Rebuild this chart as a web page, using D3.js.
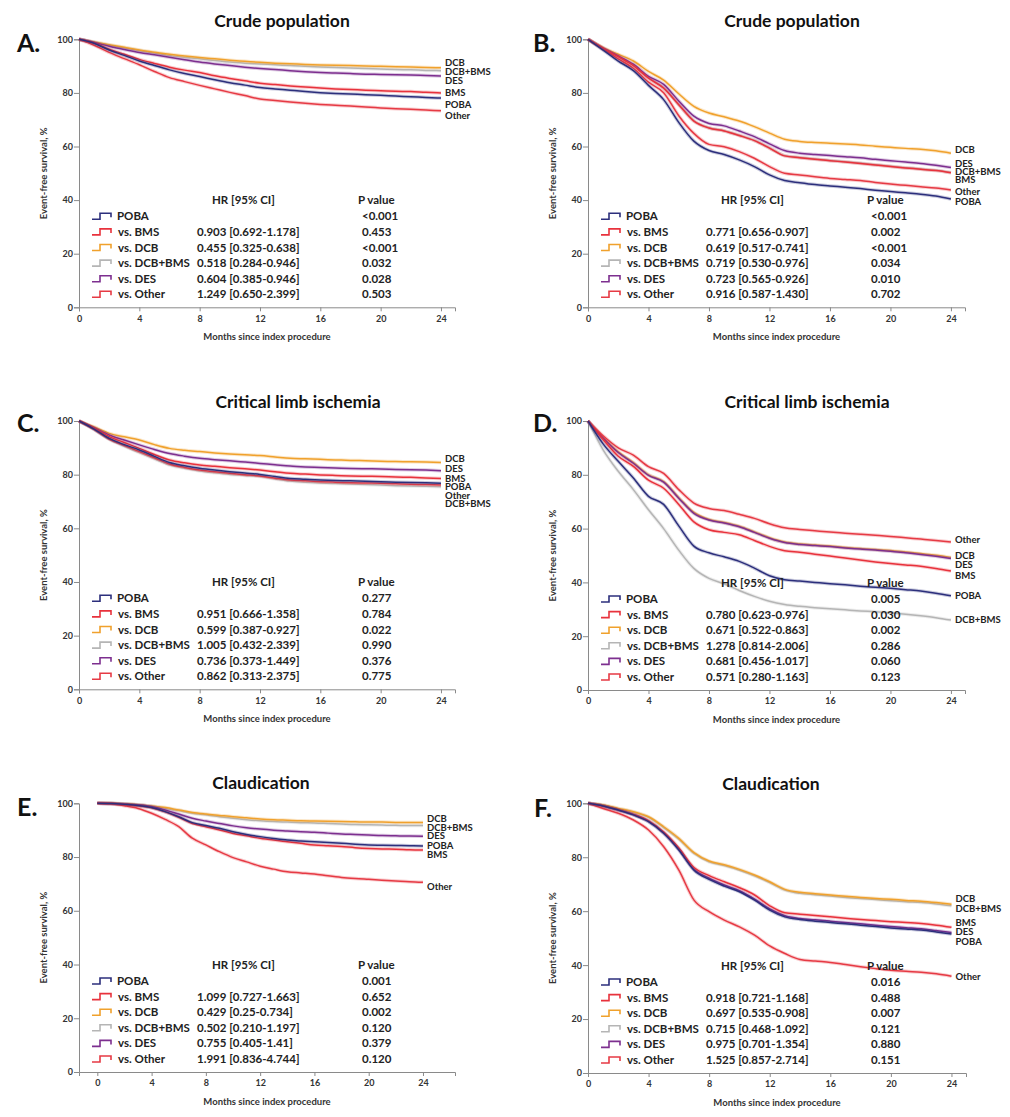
<!DOCTYPE html>
<html>
<head>
<meta charset="utf-8">
<script src="https://cdn.jsdelivr.net/npm/d3@7.9.0/dist/d3.min.js"></script>
<style>
  body { margin: 0; background: #fff; }
  svg text { font-family: Lato, "Open Sans", sans-serif; font-weight: bold; }
</style>
</head>
<body>
<svg id="chart" width="1010" height="1117"></svg>
<script>
// months since index procedure (one reading per month)
const months = [0,1,2,3,4,5,6,7,8,9,10,11,12,13,14,15,16,17,18,19,20,21,22,23,24];
const groups = ['POBA', 'BMS', 'DCB', 'DCB+BMS', 'DES', 'Other'];
const legendNames = ['POBA', 'vs. BMS', 'vs. DCB', 'vs. DCB+BMS', 'vs. DES', 'vs. Other'];
const yTicks = [0, 20, 40, 60, 80, 100];
const xTicks = [0, 4, 8, 12, 16, 20, 24];

// event-free survival (%), order follows groups
const survA = [
  [100,98.5,96.0,94.0,91.9,90.2,88.6,87.2,86.1,84.9,83.8,82.9,82.0,81.5,81.0,80.5,80.1,79.8,79.6,79.3,79.1,78.8,78.6,78.3,78.1],
  [100,98.6,96.3,94.4,92.5,91.0,89.6,88.5,87.6,86.4,85.4,84.5,83.6,83.1,82.6,82.2,81.8,81.5,81.3,81.0,80.8,80.6,80.5,80.2,80.0],
  [100,99.0,98.0,97.0,96.0,95.2,94.4,93.8,93.2,92.7,92.2,91.8,91.4,91.1,90.9,90.6,90.4,90.3,90.2,90.0,89.9,89.8,89.7,89.5,89.4],
  [100,98.9,97.8,96.8,95.8,94.9,94.0,93.3,92.7,92.1,91.5,91.1,90.8,90.5,90.2,89.9,89.7,89.5,89.3,89.1,88.9,88.7,88.6,88.4,88.3],
  [100,98.8,97.4,96.2,95.1,94.2,93.3,92.4,91.5,90.8,90.2,89.6,89.1,88.7,88.3,87.9,87.6,87.4,87.2,87.0,86.9,86.8,86.7,86.5,86.3],
  [100,97.8,95.1,92.8,90.5,88.0,85.7,84.2,82.8,81.5,80.2,79.0,77.7,77.2,76.6,76.1,75.7,75.4,75.1,74.7,74.4,74.1,73.9,73.6,73.3]
];
const survB = [
  [100,96.0,91.9,88.3,82.8,77.5,69.0,62.0,58.5,57.0,55.0,52.5,49.4,47.3,46.5,45.8,45.3,44.8,44.3,43.7,43.2,42.7,42.2,41.5,40.4],
  [100,96.6,93.5,90.2,85.5,81.8,75.6,69.5,66.9,65.8,64.1,62.2,59.4,56.5,55.8,55.2,54.7,54.2,53.7,53.1,52.5,52.0,51.5,51.0,50.2],
  [100,96.9,94.4,91.9,88.0,84.8,79.7,75.0,72.5,71.1,69.5,67.4,65.0,62.7,61.9,61.5,61.2,60.9,60.6,60.1,59.7,59.3,59.0,58.4,57.5],
  [100,96.6,93.5,90.3,85.6,81.9,75.7,69.6,67.0,65.9,64.2,62.3,59.5,56.6,55.9,55.3,54.8,54.3,53.8,53.2,52.6,52.1,51.6,51.1,50.3],
  [100,96.7,93.8,90.7,86.2,83.2,77.0,71.3,68.6,67.7,65.8,63.7,61.0,58.5,57.5,57.0,56.6,56.2,55.8,55.2,54.7,54.2,53.7,53.0,52.2],
  [100,96.3,92.7,89.2,84.0,80.1,71.5,64.9,60.8,59.9,58.1,55.6,52.5,50.0,49.4,48.7,48.1,47.7,47.3,46.6,46.0,45.5,45.0,44.5,43.8]
];
const survC = [
  [100,97.0,93.5,91.2,89.2,86.8,84.5,83.3,82.4,81.7,81.1,80.6,80.1,79.3,78.6,78.3,78.0,77.8,77.7,77.5,77.4,77.2,77.1,77.0,76.8],
  [100,97.3,94.2,92.0,89.8,87.5,85.5,84.4,83.6,83.1,82.6,82.2,81.7,81.1,80.5,80.2,79.9,79.7,79.5,79.4,79.3,79.1,79.0,78.8,78.6],
  [100,97.8,95.4,94.1,92.9,91.2,89.8,89.1,88.6,88.1,87.7,87.4,87.1,86.6,86.1,85.9,85.7,85.5,85.3,85.2,85.0,84.9,84.8,84.7,84.5],
  [100,96.8,93.2,90.6,88.2,85.9,83.6,82.4,81.4,80.7,80.1,79.7,79.3,78.4,77.6,77.2,76.9,76.7,76.5,76.3,76.1,75.9,75.8,75.7,75.5],
  [100,97.5,94.8,92.9,91.1,89.4,87.9,86.9,86.1,85.6,85.2,84.7,84.2,83.7,83.2,82.9,82.7,82.5,82.3,82.2,82.1,81.9,81.8,81.7,81.5],
  [100,96.9,93.3,90.9,88.6,86.3,84.0,82.7,81.7,81.1,80.5,80.0,79.5,78.7,78.0,77.7,77.4,77.2,77.0,76.9,76.8,76.6,76.4,76.3,76.1]
];
const survD = [
  [100,91.5,85.0,78.8,72.0,69.0,61.0,53.5,51.0,49.5,47.8,45.3,42.5,41.0,40.5,40.0,39.5,39.1,38.6,38.2,37.8,37.3,36.8,36.0,35.0],
  [100,93.1,86.9,83.1,78.0,75.0,69.0,62.5,59.6,58.6,57.7,55.6,53.4,51.8,51.2,50.5,49.8,49.1,48.3,47.6,47.0,46.5,46.0,45.2,44.2],
  [100,93.8,88.5,84.5,80.0,77.5,71.5,66.0,63.4,62.3,60.9,58.8,56.6,55.0,54.3,53.9,53.5,53.0,52.6,52.2,51.9,51.3,50.7,50.1,49.3],
  [100,89.3,81.3,74.5,67.0,60.0,52.0,45.2,41.5,39.5,37.0,34.8,33.0,31.8,31.1,30.6,30.2,29.8,29.4,29.1,28.7,28.2,27.6,26.9,26.0],
  [100,93.7,88.3,84.3,79.8,77.3,71.3,65.7,63.2,62.1,60.7,58.6,56.4,54.8,54.1,53.7,53.3,52.8,52.4,52.0,51.6,51.0,50.4,49.7,48.9],
  [100,94.5,90.0,87.3,83.0,80.5,74.5,69.5,67.5,66.7,65.3,63.8,61.8,60.3,59.7,59.2,58.7,58.3,57.9,57.5,57.1,56.6,56.1,55.6,55.0]
];
const survE = [
  [100,99.9,99.6,99.2,98.4,96.9,95.0,92.8,91.7,90.7,89.4,88.4,87.6,86.9,86.3,86.0,85.7,85.4,85.1,84.8,84.5,84.4,84.3,84.2,84.1],
  [100,99.9,99.5,99.1,98.3,96.8,94.8,92.5,91.3,90.1,88.8,87.9,87.0,86.3,85.7,85.1,84.5,84.2,83.9,83.5,83.2,83.0,82.9,82.7,82.6],
  [100,100,99.8,99.5,99.0,98.4,97.5,96.6,96.0,95.5,95.0,94.6,94.2,93.9,93.7,93.5,93.4,93.3,93.2,93.1,93.0,93.0,92.9,92.9,92.9],
  [100,100,99.8,99.4,98.9,98.2,97.3,96.3,95.7,95.0,94.4,93.9,93.5,93.2,93.0,92.8,92.7,92.5,92.3,92.1,92.0,91.9,91.8,91.7,91.7],
  [100,99.9,99.7,99.4,98.8,97.5,96.0,94.4,93.4,92.5,91.6,90.9,90.4,90.0,89.7,89.4,89.2,88.9,88.6,88.4,88.2,88.0,87.9,87.8,87.7],
  [100,99.8,99.1,98.1,96.3,94.0,91.3,87.0,84.5,82.0,79.8,78.2,76.6,75.5,74.5,74.1,73.7,73.0,72.4,72.0,71.7,71.4,71.1,70.8,70.6]
];
const survF = [
  [100,99.0,97.5,95.7,93.2,88.9,82.7,75.2,71.8,69.3,67.2,64.1,60.4,57.9,56.9,56.3,55.8,55.3,54.8,54.3,53.8,53.4,53.0,52.3,51.5],
  [100,99.0,97.6,95.9,93.5,89.3,83.4,76.2,73.2,70.9,68.7,66.0,62.0,59.4,58.9,58.4,57.9,57.4,56.9,56.5,56.1,55.8,55.4,54.8,54.0],
  [100,99.4,98.1,96.9,95.0,91.3,87.0,81.7,78.6,77.2,75.5,73.4,70.9,68.1,67.0,66.5,66.0,65.5,65.1,64.7,64.4,64.0,63.7,63.2,62.6],
  [100,99.3,98.0,96.7,94.8,91.0,86.7,81.4,78.3,76.9,75.2,73.1,70.6,67.8,66.6,66.1,65.6,65.1,64.7,64.3,63.9,63.5,63.2,62.7,62.0],
  [100,99.0,97.5,95.8,93.3,89.0,82.9,75.5,72.2,69.7,67.6,64.5,60.8,58.3,57.3,56.8,56.3,55.8,55.3,54.8,54.3,53.9,53.5,52.8,52.1],
  [100,98.1,96.3,93.8,90.1,83.9,75.2,64.1,59.8,56.7,54.2,51.1,47.1,44.3,42.1,41.5,41.0,40.2,39.4,38.7,38.1,37.7,37.4,36.8,35.9]
];

// hazard ratios and p values, order follows legendNames
const hrA = ['', '0.903 [0.692-1.178]', '0.455 [0.325-0.638]', '0.518 [0.284-0.946]', '0.604 [0.385-0.946]', '1.249 [0.650-2.399]'];
const pA  = ['<0.001', '0.453', '<0.001', '0.032', '0.028', '0.503'];
const hrB = ['', '0.771 [0.656-0.907]', '0.619 [0.517-0.741]', '0.719 [0.530-0.976]', '0.723 [0.565-0.926]', '0.916 [0.587-1.430]'];
const pB  = ['<0.001', '0.002', '<0.001', '0.034', '0.010', '0.702'];
const hrC = ['', '0.951 [0.666-1.358]', '0.599 [0.387-0.927]', '1.005 [0.432-2.339]', '0.736 [0.373-1.449]', '0.862 [0.313-2.375]'];
const pC  = ['0.277', '0.784', '0.022', '0.990', '0.376', '0.775'];
const hrD = ['', '0.780 [0.623-0.976]', '0.671 [0.522-0.863]', '1.278 [0.814-2.006]', '0.681 [0.456-1.017]', '0.571 [0.280-1.163]'];
const pD  = ['0.005', '0.030', '0.002', '0.286', '0.060', '0.123'];
const hrE = ['', '1.099 [0.727-1.663]', '0.429 [0.25-0.734]', '0.502 [0.210-1.197]', '0.755 [0.405-1.41]', '1.991 [0.836-4.744]'];
const pE  = ['0.001', '0.652', '0.002', '0.120', '0.379', '0.120'];
const hrF = ['', '0.918 [0.721-1.168]', '0.697 [0.535-0.908]', '0.715 [0.468-1.092]', '0.975 [0.701-1.354]', '1.525 [0.857-2.714]'];
const pF  = ['0.016', '0.488', '0.007', '0.121', '0.880', '0.151'];

const colors = {
  'POBA': '#2c2f7c', 'BMS': '#e8323c', 'DCB': '#f0a12c',
  'DCB+BMS': '#b5b5b5', 'DES': '#7d2f8f', 'Other': '#e63a44'
};
// drawing order (last on top)
const drawOrder = ['DCB+BMS', 'DCB', 'DES', 'Other', 'BMS', 'POBA'];

// layout of each panel; labelY = where the end labels sit, in % units
const panels = [
  { tag: 'A.', title: 'Crude population', surv: survA, hr: hrA, p: pA,
    left: 79, right: 455, top: 39.3, bottom: 307.3, xMin: 0, xMax: 24.93,
    titleX: 282, titleY: 27, tagX: 17, tagY: 52,
    labelY: [75.5, 80.0, 91.3, 87.9, 84.4, 71.5] },
  { tag: 'B.', title: 'Crude population', surv: survB, hr: hrB, p: pB,
    left: 588, right: 965, top: 39.3, bottom: 307.3, xMin: 0, xMax: 24.93,
    titleX: 792, titleY: 27, tagX: 533, tagY: 52,
    labelY: [39.4, 47.5, 58.7, 50.6, 53.7, 43.1] },
  { tag: 'C.', title: 'Critical limb ischemia', surv: survC, hr: hrC, p: pC,
    left: 79, right: 455, top: 421, bottom: 689.3, xMin: 0, xMax: 24.93,
    titleX: 298, titleY: 408, tagX: 17, tagY: 432,
    labelY: [75.5, 78.6, 86.1, 69.0, 82.2, 72.2] },
  { tag: 'D.', title: 'Critical limb ischemia', surv: survD, hr: hrD, p: pD,
    left: 588, right: 965, top: 421, bottom: 690, xMin: 0, xMax: 24.93,
    titleX: 807, titleY: 408, tagX: 533, tagY: 432,
    labelY: [35.2, 42.5, 49.8, 26.3, 46.5, 56.0] },
  { tag: 'E.', title: 'Claudication', surv: survE, hr: hrE, p: pE,
    left: 79, right: 455, top: 803.3, bottom: 1072, xMin: -1.35, xMax: 26.36,
    titleX: 261, titleY: 789, tagX: 17, tagY: 816,
    labelY: [84.2, 80.8, 94.4, 90.9, 87.8, 69.0] },
  { tag: 'F.', title: 'Claudication', surv: survF, hr: hrF, p: pF,
    left: 588, right: 966, top: 803.3, bottom: 1073, xMin: 0, xMax: 24.96,
    titleX: 771, titleY: 790, tagX: 534, tagY: 817,
    labelY: [48.8, 55.6, 64.5, 60.8, 52.4, 35.8] }
];

const svg = d3.select('#chart');
svg.append('rect').attr('width', 1010).attr('height', 1117).attr('fill', '#fff');

panels.forEach((pn) => {
  const g = svg.append('g');
  const x = d3.scaleLinear().domain([pn.xMin, pn.xMax]).range([pn.left, pn.right]);
  const y = d3.scaleLinear().domain([0, 100]).range([pn.bottom, pn.top]);

  // title and panel letter
  g.append('text').attr('x', pn.titleX).attr('y', pn.titleY)
    .attr('text-anchor', 'middle').attr('font-size', 17.5).attr('fill', '#111')
    .text(pn.title);
  g.append('text').attr('x', pn.tagX).attr('y', pn.tagY)
    .attr('font-size', 25).attr('fill', '#111').text(pn.tag);

  // axes
  const yAxis = g.append('g').attr('transform', `translate(${pn.left},0)`)
    .call(d3.axisLeft(y).tickValues(yTicks).tickSizeOuter(0).tickSize(5).tickPadding(1));
  const xAxis = g.append('g').attr('transform', `translate(0,${pn.bottom})`)
    .call(d3.axisBottom(x).tickValues(xTicks).tickSizeOuter(0).tickSize(4).tickPadding(4));
  [yAxis, xAxis].forEach((a) => {
    a.select('.domain').attr('stroke', '#8a8a8a');
    a.selectAll('.tick line').attr('stroke', '#8a8a8a');
    a.selectAll('.tick text').attr('font-size', 9).attr('fill', '#333')
      .style('font-family', 'Lato, sans-serif').style('font-weight', 'bold');
  });

  g.append('text')
    .attr('x', (pn.left + pn.right) / 2).attr('y', pn.bottom + 33)
    .attr('text-anchor', 'middle').attr('font-size', 9.5).attr('fill', '#333')
    .text('Months since index procedure');
  g.append('text')
    .attr('transform', `translate(${pn.left - 32},${(pn.top + pn.bottom) / 2}) rotate(-90)`)
    .attr('text-anchor', 'middle').attr('font-size', 9.5).attr('fill', '#333')
    .text('Event-free survival, %');

  // survival curves
  const line = d3.line()
    .x((d, i) => x(months[i]))
    .y((d) => y(d))
    .curve(d3.curveMonotoneX);

  drawOrder.forEach((name) => {
    const idx = groups.indexOf(name);
    const vals = pn.surv[idx];
    g.append('path').attr('d', line(vals)).attr('fill', 'none')
      .attr('stroke', colors[name]).attr('stroke-opacity', 0.25).attr('stroke-width', 3.5);
    g.append('path').attr('d', line(vals)).attr('fill', 'none')
      .attr('stroke', colors[name]).attr('stroke-width', 1.5);
  });

  // end labels
  groups.forEach((name, i) => {
    g.append('text').attr('x', x(24) + 4).attr('y', y(pn.labelY[i]))
      .attr('dy', '0.35em').attr('font-size', 9.5).attr('fill', '#222').text(name);
  });

  // legend table
  const headY = pn.bottom - 107;
  g.append('text').attr('x', pn.left + 133).attr('y', headY).attr('dy', '0.35em')
    .attr('font-size', 11.5).attr('fill', '#222').text('HR [95% CI]');
  g.append('text').attr('x', pn.left + 279).attr('y', headY).attr('dy', '0.35em')
    .attr('font-size', 11.5).attr('fill', '#222').text('P value');

  legendNames.forEach((lab, i) => {
    const ry = pn.bottom - 91 + i * 15.6;
    const ix = pn.left + 13;
    g.append('path')
      .attr('d', `M${ix},${ry + 3} H${ix + 8} V${ry - 3} H${ix + 19} V${ry + 1}`)
      .attr('fill', 'none').attr('stroke', colors[groups[i]]).attr('stroke-width', 1.6);
    g.append('text').attr('x', pn.left + (i === 0 ? 38 : 39)).attr('y', ry).attr('dy', '0.35em')
      .attr('font-size', 11.5).attr('fill', '#222').text(lab);
    g.append('text').attr('x', pn.left + 118).attr('y', ry).attr('dy', '0.35em')
      .attr('font-size', 11.5).attr('fill', '#222').text(pn.hr[i]);
    g.append('text').attr('x', pn.left + 283).attr('y', ry).attr('dy', '0.35em')
      .attr('font-size', 11.5).attr('fill', '#222').text(pn.p[i]);
  });
});
</script>
</body>
</html>
